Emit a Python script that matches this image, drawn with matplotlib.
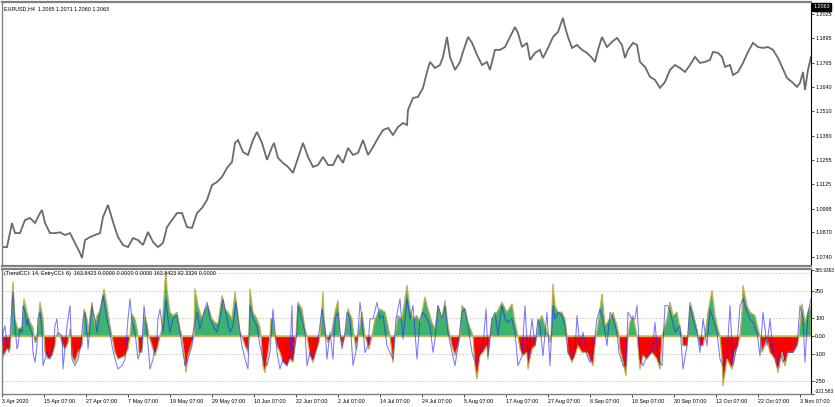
import matplotlib
matplotlib.use('Agg')
import matplotlib.pyplot as plt
import matplotlib.transforms as mtransforms
import numpy as np

# ---------------- data ----------------
price_x = [2, 7, 12, 15, 20, 25, 30, 35, 40, 42, 45, 50, 55, 60, 65, 70, 75, 80, 82, 85, 90, 95, 100, 103, 108,
           113, 118, 123, 128, 133, 138, 143, 148, 153, 158, 163, 167, 172, 177, 182, 187, 192, 197, 202, 207,
           212, 217, 222, 227, 232, 235, 238, 243, 248, 253, 257, 262, 267, 272, 274, 278, 283, 288, 293, 298,
           303, 308, 313, 318, 323, 328, 333, 338, 343, 348, 353, 358, 363, 368, 373, 378, 383, 388, 393, 398,
           403, 407, 408, 413, 418, 423, 427, 430, 435, 440, 443, 447, 450, 455, 460, 463, 468, 472, 477, 482,
           487, 490, 495, 500, 505, 510, 515, 518, 522, 527, 530, 535, 540, 543, 548, 553, 558, 563, 565, 568,
           572, 577, 582, 587, 592, 595, 598, 602, 607, 612, 617, 622, 625, 628, 633, 637, 640, 645, 650, 655,
           660, 665, 670, 675, 680, 685, 690, 695, 700, 705, 710, 713, 718, 722, 725, 730, 733, 738, 743, 748,
           753, 758, 763, 768, 773, 778, 782, 787, 792, 797, 800, 803, 805, 808, 811]
price_close = [1.0792, 1.0792, 1.0919, 1.0866, 1.0866, 1.0935, 1.0946, 1.0919, 1.0972, 1.0988, 1.0919, 1.0866,
               1.0866, 1.0870, 1.0856, 1.0866, 1.0814, 1.0761, 1.0734, 1.0829, 1.0845, 1.0856, 1.0866, 1.0951,
               1.1015, 1.0925, 1.0845, 1.0803, 1.0792, 1.0840, 1.0829, 1.0803, 1.0872, 1.0819, 1.0792, 1.0814,
               1.0898, 1.0935, 1.0972, 1.0972, 1.0898, 1.0893, 1.0972, 1.0999, 1.1041, 1.1120, 1.1136, 1.1163,
               1.1210, 1.1242, 1.1343, 1.1358, 1.1295, 1.1279, 1.1358, 1.1401, 1.1343, 1.1253, 1.1321, 1.1343,
               1.1263, 1.1237, 1.1216, 1.1184, 1.1263, 1.1343, 1.1269, 1.1216, 1.1226, 1.1269, 1.1226, 1.1226,
               1.1279, 1.1237, 1.1316, 1.1279, 1.1290, 1.1358, 1.1279, 1.1321, 1.1369, 1.1411, 1.1422, 1.1385,
               1.1427, 1.1448, 1.1438, 1.1517, 1.1581, 1.1586, 1.1634, 1.1718, 1.1771, 1.1739, 1.1755, 1.1798,
               1.1903, 1.1798, 1.1729, 1.1771, 1.1824, 1.1903, 1.1872, 1.1808, 1.1755, 1.1771, 1.1729, 1.1835,
               1.1835, 1.1850, 1.1903, 1.1956, 1.1924, 1.1850, 1.1872, 1.1782, 1.1819, 1.1835, 1.1792, 1.1845,
               1.1903, 1.1930, 1.2004, 1.1956, 1.1903, 1.1845, 1.1861, 1.1835, 1.1819, 1.1792, 1.1771, 1.1835,
               1.1903, 1.1850, 1.1877, 1.1898, 1.1861, 1.1792, 1.1835, 1.1872, 1.1861, 1.1771, 1.1745, 1.1692,
               1.1676, 1.1634, 1.1665, 1.1729, 1.1755, 1.1739, 1.1718, 1.1755, 1.1798, 1.1766, 1.1771, 1.1782,
               1.1824, 1.1819, 1.1798, 1.1745, 1.1755, 1.1702, 1.1718, 1.1766, 1.1824, 1.1872, 1.1850, 1.1845,
               1.1850, 1.1835, 1.1792, 1.1745, 1.1686, 1.1665, 1.1639, 1.1660, 1.1718, 1.1623, 1.1729, 1.1798]

hist_x = [0, 2, 7, 10, 11, 12, 13, 15, 18, 22, 24, 27, 30, 33, 34, 35, 36, 37, 40, 43, 44, 45, 48, 52, 55, 56,
          58, 60, 63, 65, 68, 69, 70, 71, 72, 75, 78, 82, 83, 84, 87, 88, 92, 95, 97, 100, 104, 107, 110, 112,
          115, 118, 122, 125, 128, 130, 132, 135, 137, 138, 139, 142, 143, 144, 147, 149, 152, 155, 158, 160,
          162, 165, 166, 167, 170, 173, 177, 180, 182, 184, 186, 188, 192, 194, 195, 198, 202, 205, 208, 212,
          215, 218, 222, 225, 228, 232, 235, 238, 240, 242, 245, 248, 249, 250, 253, 257, 260, 261, 263, 265,
          268, 270, 271, 273, 275, 277, 280, 283, 287, 290, 293, 296, 298, 302, 305, 307, 310, 313, 317, 319,
          320, 323, 324, 326, 328, 331, 335, 338, 340, 342, 345, 348, 352, 354, 356, 358, 362, 365, 369, 372,
          375, 380, 385, 388, 390, 393, 395, 398, 402, 407, 410, 413, 417, 420, 425, 428, 432, 435, 438, 442,
          445, 448, 450, 452, 455, 458, 460, 462, 465, 468, 472, 473, 475, 477, 480, 483, 487, 488, 490, 492,
          497, 502, 507, 512, 515, 518, 520, 523, 527, 528, 532, 535, 537, 538, 542, 547, 549, 550, 551, 553,
          555, 558, 562, 565, 567, 568, 572, 575, 578, 582, 587, 590, 593, 596, 598, 602, 605, 610, 613, 617,
          619, 620, 623, 626, 628, 630, 633, 637, 640, 643, 647, 652, 657, 660, 662, 667, 670, 673, 677, 680,
          682, 683, 687, 688, 690, 693, 697, 698, 700, 703, 705, 708, 712, 715, 718, 720, 722, 723, 727, 732,
          735, 738, 740, 742, 743, 747, 750, 755, 758, 760, 762, 767, 770, 775, 778, 782, 785, 788, 793, 797,
          799, 802, 805, 808, 811]
hist_v = [-128, -128, -72, -72, 0, 206, 298, 95, 39, 48, 206, 132, 76, 48, 0, -35, -35, 0, 187, 95, 0, -91, -128,
          -109, -54, 0, 20, 0, -54, -72, -40, 0, 39, 0, -109, -146, -91, -54, 0, 150, 95, 20, 187, 57, 113, 141,
          261, 169, 57, 0, -91, -128, -118, -109, -72, 0, 122, 95, 39, 0, -91, -91, 0, 113, 67, 0, -54, -109, -54,
          0, 39, 300, 354, 261, 132, 113, 132, 39, 0, -91, -202, -109, -35, 0, 261, 169, 95, 150, 169, 95, 76, 67,
          224, 150, 132, 95, 243, 113, 20, 0, -54, -91, 0, 261, 132, 95, 48, 0, -165, -202, -91, 0, 95, 95, 0,
          -54, -91, -146, -165, -128, -146, 0, 187, 150, 39, 0, -109, -146, -72, -35, 0, 243, 95, 0, -35, 0, 132,
          196, 0, -54, 0, 150, 95, 0, -72, 0, 132, 0, -72, 0, 95, 150, 132, 57, 0, -146, 0, 113, 95, 280, 150, 95,
          113, 76, 215, 150, 76, 39, 169, 95, 196, 57, 0, -54, -109, -54, 0, 169, 150, 76, 20, 0, -165, -239,
          -109, -91, -54, -128, 0, 95, 132, 187, 132, 178, 76, 0, -72, -109, -91, -183, -72, -54, 0, 76, 113, 20,
          0, -35, 0, 289, 169, 132, 132, 95, 0, -91, -146, -109, -54, -91, -91, -128, -165, 0, 57, 233, 57, 95,
          132, 57, 0, -72, -146, -220, 0, 76, 113, 0, -183, -109, -128, -91, -128, -183, 0, 95, 187, 113, 132,
          39, 0, -54, -54, 0, 187, 132, 39, 0, -54, -54, 0, 132, 252, 113, 39, 0, -128, -276, -128, -183, -91,
          -54, 0, 132, 280, 169, 132, 113, 39, 0, -91, -17, -91, -128, -202, -91, -165, -91, -91, -54, 0, 178,
          76, 132, 169]

entry_x = [0, 3, 5, 7, 9, 12, 13, 15, 17, 18, 20, 22, 23, 25, 27, 28, 30, 32, 33, 35, 37, 38, 40, 42, 43, 47,
           50, 53, 55, 57, 58, 62, 63, 67, 68, 70, 72, 75, 78, 80, 82, 83, 85, 87, 88, 90, 92, 93, 95, 97, 100,
           103, 107, 110, 112, 115, 118, 122, 125, 128, 130, 132, 135, 138, 142, 144, 147, 150, 153, 157, 158,
           160, 163, 166, 168, 170, 173, 177, 180, 183, 185, 188, 192, 193, 197, 200, 203, 207, 210, 213, 217,
           220, 223, 227, 230, 233, 236, 238, 242, 245, 248, 250, 253, 257, 260, 263, 267, 270, 273, 277, 280,
           283, 287, 290, 292, 293, 297, 298, 302, 305, 307, 310, 313, 317, 319, 322, 325, 327, 330, 333, 335,
           338, 342, 345, 347, 350, 353, 357, 360, 362, 365, 368, 370, 373, 377, 380, 383, 387, 390, 393, 396,
           400, 403, 407, 410, 413, 417, 420, 423, 427, 430, 433, 435, 438, 442, 445, 448, 452, 455, 458, 462,
           465, 468, 472, 474, 477, 480, 483, 486, 488, 492, 495, 498, 502, 505, 508, 512, 515, 518, 522, 525,
           528, 532, 535, 538, 540, 543, 547, 550, 553, 555, 558, 562, 565, 568, 572, 575, 577, 580, 583, 587,
           590, 593, 597, 600, 603, 607, 610, 613, 617, 619, 623, 626, 628, 632, 635, 637, 640, 643, 647, 652,
           655, 658, 662, 665, 668, 672, 675, 680, 683, 687, 690, 693, 697, 700, 703, 707, 710, 713, 717, 720,
           723, 727, 730, 733, 737, 740, 743, 747, 750, 753, 757, 760, 763, 767, 770, 773, 777, 780, 783, 787,
           790, 793, 797, 800, 803, 805, 808, 811]
entry_v = [-128, 20, 57, -54, -91, 169, 243, 57, -72, -54, 39, 20, 169, 132, 57, 95, 39, 20, -91, -146, -54, 95,
           132, 39, -165, -91, -128, -72, 57, 95, 20, 2, -183, 57, 95, 169, -128, -165, -128, -72, 20, 95, 132, 20,
           -72, 57, 169, 132, 95, 20, 132, 224, 95, 20, -54, -128, -183, -165, -128, 95, 206, 76, 20, -128, -54,
           169, 20, -183, -128, 2, 95, 150, 20, 206, 95, 20, 95, 113, 20, -91, -165, -128, -54, 20, 132, 39, 113,
           187, 95, 57, 20, 95, 206, 95, 20, 57, 187, 95, -54, -128, -183, 169, 95, 57, -54, -128, -165, -91, 150,
           -91, -183, -128, -165, -91, 169, -128, 20, 169, 95, 20, -165, -91, -128, -54, 20, 150, 39, -128, 20,
           -128, 95, 132, -72, 20, 132, 95, -165, -54, 187, 95, -91, -54, 95, 95, 187, 95, 113, -54, -91, -128,
           95, 206, -17, 206, 95, 169, -128, 95, 132, 95, 57, -91, -17, 169, 95, 169, 20, -91, -165, -54, 132,
           150, 57, -91, -128, -165, -91, -54, 150, -109, 95, 132, 2, 169, 95, 76, 95, 20, -165, -109, 169, -128,
           95, -54, 95, 57, -109, 132, -165, 169, 95, 132, 113, 57, -91, -128, -91, 113, -54, 20, -109, -146, -91,
           95, 150, 95, -54, 132, 95, 20, -91, -165, -165, 132, 95, 95, 169, -128, -165, -109, -91, 76, -128,
           -165, 169, 169, 95, 20, 57, -183, -54, 169, 95, 20, -91, 95, -54, 150, 95, 20, -128, -165, -109, 169,
           -165, -54, 169, 206, 132, 95, 76, 20, -109, 132, -54, 95, -91, -165, -91, -146, -91, -91, -91, -54, 169,
           95, -146, 132, 206]

price_ticks = [1.2025, 1.1895, 1.1765, 1.1640, 1.1510, 1.1380, 1.1255, 1.1125, 1.0995, 1.0870, 1.0740]
cci_ticks = [365.9363, 250, 100, 0, -100, -250, -321.583]
cci_tick_labels = ['365.9363', '250', '100', '0.00', '-100', '-250', '-321.583']
cci_levels = [350, 250, 100, -100, -250]
time_ticks = [2, 44, 86, 128, 170, 212, 254, 296, 338, 380, 422, 464, 506, 548, 590, 632, 674, 716, 758, 800]
time_labels = ['3 Apr 2020', '15 Apr 07:00', '27 Apr 07:00', '7 May 07:00', '19 May 07:00', '29 May 07:00',
               '10 Jun 07:00', '22 Jun 07:00', '2 Jul 07:00', '14 Jul 07:00', '24 Jul 07:00', '5 Aug 07:00',
               '17 Aug 07:00', '27 Aug 07:00', '8 Sep 07:00', '18 Sep 07:00', '30 Sep 07:00', '12 Oct 07:00',
               '22 Oct 07:00', '3 Nov 07:00']
header_text = 'EURUSD,H4  1.2065 1.2071 1.2060 1.2063'
cci_text = '(TrendCCI: 14, EntryCCI: 6)  163.8423 0.0000 0.0000 0.0000 163.8423 82.3326 0.0000'
last_price = 1.2063

# ---------------- figure ----------------
plt.rcParams['font.family'] = ['Liberation Sans', 'DejaVu Sans']
FS = 3.9
W, H = 835, 407
fig = plt.figure(figsize=(W / 100, H / 100), dpi=100)
fig.patch.set_facecolor('white')


def rect(l, t, r, b):
    return [l / W, 1 - b / H, (r - l) / W, (b - t) / H]


ax1 = fig.add_axes(rect(2, 2, 811, 266))
ax2 = fig.add_axes(rect(2, 269, 811, 394))

for ax in (ax1, ax2):
    for s in ax.spines.values():
        s.set_color('#808080')
        s.set_linewidth(1.0)
    ax.spines['right'].set_color('#000000')
    ax.spines['right'].set_linewidth(0.8)
    ax.set_xlim(2, 811)
    ax.yaxis.tick_right()
    ax.tick_params(axis='y', direction='out', length=2, width=0.5, labelsize=FS, pad=1.0,
                   colors='#000000')
ax1.spines['top'].set_linewidth(1.6)
ax1.spines['bottom'].set_linewidth(1.6)
ax2.spines['top'].set_linewidth(1.6)

# price panel
ax1.plot(price_x, price_close, color='#6a6a6a', lw=1.3, solid_joinstyle='miter')
ax1.set_ylim(1.0692, 1.2088)
ax1.set_yticks(price_ticks)
ax1.set_yticklabels([f'{v:.4f}' for v in price_ticks])
ax1.set_xticks([])
ax1.text(0.002, 0.985, header_text, transform=ax1.transAxes, fontsize=FS, va='top', ha='left')
trans = mtransforms.blended_transform_factory(ax1.transAxes, ax1.transData)
ax1.text(1.003, last_price, f'{last_price:.4f}', transform=trans, fontsize=FS, va='center', ha='left',
         color='white', clip_on=False,
         bbox=dict(boxstyle='square,pad=0.25', facecolor='black', edgecolor='black'))

# CCI panel
hx = np.array(hist_x, dtype=float)
hv = np.array(hist_v, dtype=float)
for lv in cci_levels:
    ax2.axhline(lv, color='#c0c0c0', lw=0.6, ls=(0, (2, 2)), zorder=0)
ax2.fill_between(hx, 0, hv, where=hv >= 0, interpolate=True, facecolor='#3cb371',
                 edgecolor='#c0b050', lw=0.9, zorder=2)
ax2.fill_between(hx, 0, hv, where=hv <= 0, interpolate=True, facecolor='#ff0000',
                 edgecolor='#c0b050', lw=0.9, zorder=2)
ax2.axhline(0, color='#c8b464', lw=1.0, zorder=3)
ax2.plot(entry_x, entry_v, color='#2020ff', lw=0.75, alpha=0.6, zorder=4)
ax2.set_ylim(-322, 372)
ax2.set_yticks(cci_ticks)
ax2.set_yticklabels(cci_tick_labels)
ylbls = ax2.get_yticklabels()
ylbls[0].set_fontsize(3.4)
ylbls[-1].set_fontsize(3.4)
ylbls[-1].set_va('bottom')
ax2.set_xticks(time_ticks)
ax2.set_xticklabels(time_labels)
ax2.tick_params(axis='x', direction='out', length=2, width=0.5, labelsize=FS, pad=1.5)
for lbl in ax2.get_xticklabels():
    lbl.set_ha('left')
ax2.text(0.002, 0.985, cci_text, transform=ax2.transAxes, fontsize=FS, va='top', ha='left')

fig.savefig('out.png', dpi=100, facecolor='white')
